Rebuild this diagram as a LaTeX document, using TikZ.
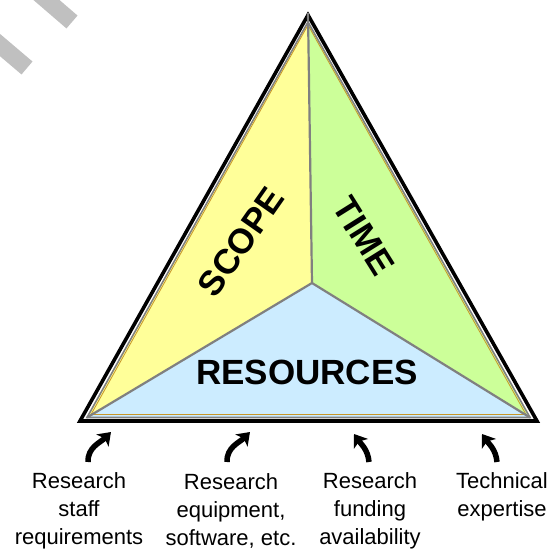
\documentclass[tikz,border=0pt]{standalone}
\usepackage{fontspec}
\setmainfont{Liberation Sans}
\usetikzlibrary{arrows.meta}
\definecolor{scopey}{RGB}{255,255,153}
\definecolor{timeg}{RGB}{204,255,153}
\definecolor{resb}{RGB}{204,236,255}
\definecolor{edgeor}{RGB}{200,150,40}
\definecolor{divgray}{RGB}{128,128,128}
\definecolor{stripe}{RGB}{192,192,192}
\tikzset{
  bigword/.style={font=\bfseries\fontsize{35}{40}\selectfont, inner sep=0pt},
  lbl/.style={font=\fontsize{22}{28}\selectfont, align=center, inner sep=0pt},
  divider/.style={draw=divgray, line width=2.2pt},
  curvarrow/.style={line width=5.5pt, -{Stealth[length=12pt,width=17pt,inset=3pt]}},
  stripeline/.style={draw=stripe, line width=17pt}
}
\begin{document}
\begin{tikzpicture}[x=1pt,y=1pt]
\useasboundingbox (0,0) rectangle (550,-549);
% watermark stripes
\draw[stripeline] (36,9) -- (72,-22);
\draw[stripeline] (-13,-34) -- (27,-68);
% key points
\coordinate (P1) at (308,-15);
\coordinate (P2) at (80,-421);
\coordinate (P3) at (537,-421);
\coordinate (Q1) at (308,-22);
\coordinate (Q2) at (87,-417.5);
\coordinate (Q3) at (530,-417.5);
\coordinate (O) at (312,-283);
% fills
\fill[scopey] (Q1) -- (O) -- (Q2) -- cycle;
\fill[timeg] (Q1) -- (Q3) -- (O) -- cycle;
\fill[resb] (Q2) -- (O) -- (Q3) -- cycle;
% thin edge lines
\draw[edgeor, line width=0.8pt] (308,-25) -- (91,-414.5) -- (526,-414.5) -- cycle;
% gray inner outline
\draw[divgray, line width=1.6pt, line join=miter] (Q1) -- (Q2) -- (Q3) -- cycle;
% black outer outline
\draw[black, line width=3.6pt, line join=miter] (P1) -- (P2) -- (P3) -- cycle;
% dividers
\draw[divider] (308,-13) -- (O);
\draw[divider] (Q2) -- (O) -- (Q3);
% words
\node[bigword, rotate=55] (scope) at (241,-242) {SCOPE};
\node[bigword, rotate=-58] (time) at (364,-236) {TIME};
\node[bigword] (res) at (307,-372) {RESOURCES};
% labels
\node[lbl] (l1) at (79,-511) {Research\\staff\\requirements};
\node[lbl] (l2) at (231,-511) {Research\\equipment,\\software, etc.};
\node[lbl] (l3) at (370,-511) {Research\\funding\\availability};
\node[lbl] (l4) at (502,-497) {Technical\\expertise};
% arrows
\coordinate (t1) at (88,-462); \coordinate (h1) at (111,-432);
\coordinate (t2) at (227,-462); \coordinate (h2) at (250,-432);
\coordinate (t3) at (369,-462); \coordinate (h3) at (354,-434);
\coordinate (t4) at (497,-462); \coordinate (h4) at (482,-434);
\draw[curvarrow] (t1) to[out=92,in=225] (h1);
\draw[curvarrow] (t2) to[out=92,in=225] (h2);
\draw[curvarrow] (t3) to[out=95,in=-55] (h3);
\draw[curvarrow] (t4) to[out=95,in=-55] (h4);
\end{tikzpicture}
\end{document}
